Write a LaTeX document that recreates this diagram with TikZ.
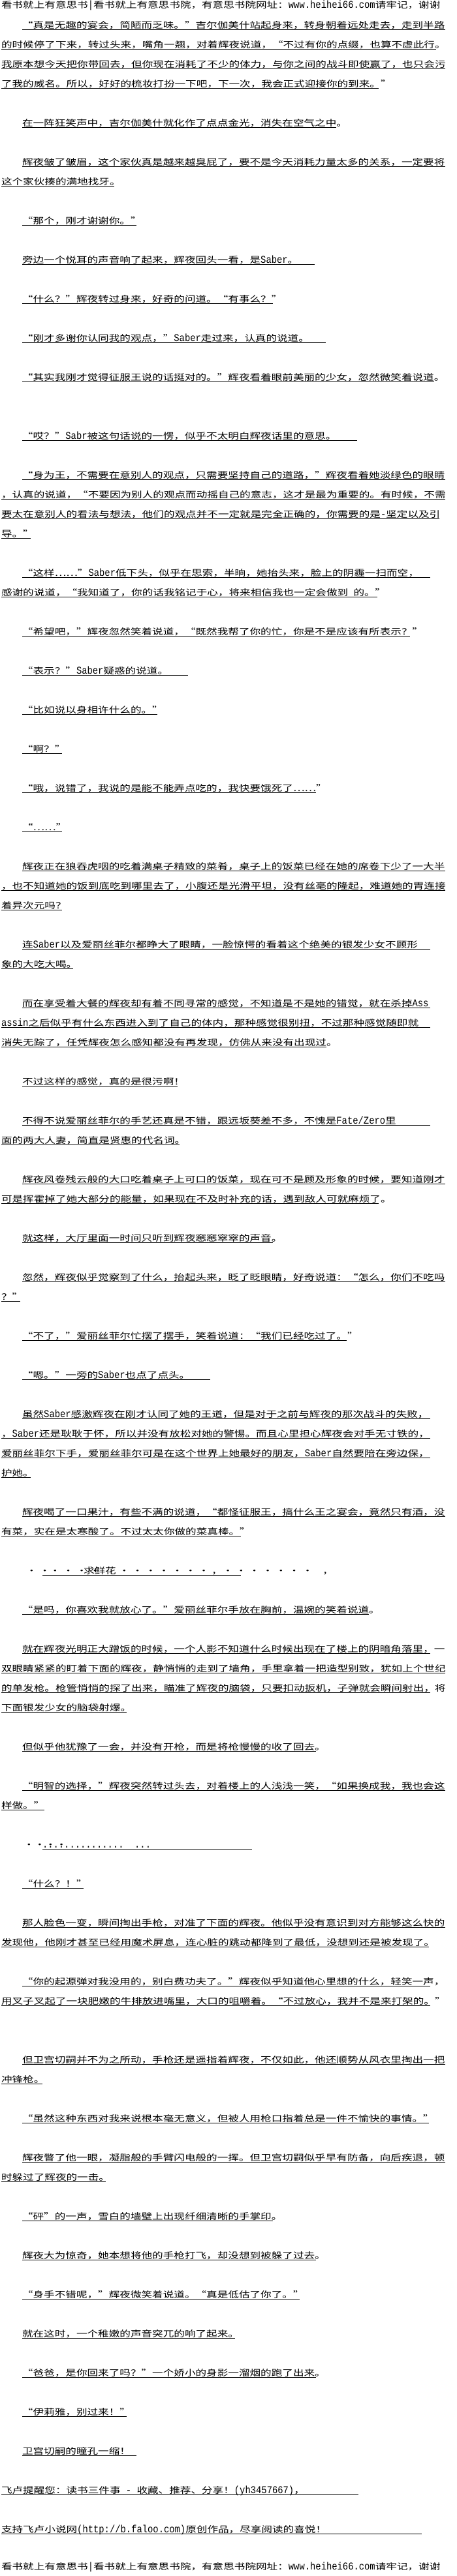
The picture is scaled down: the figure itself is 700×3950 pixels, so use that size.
\documentclass[tikz,border=0pt]{standalone}
\usepackage{fontspec}
\setmainfont[FakeStretch=1.277]{Noto Sans CJK SC}
\newfontfamily\latf[FakeStretch=0.865]{Liberation Mono}
\newcommand\lat[1]{{\fontsize{16pt}{16pt}\latf #1}}
\newcommand\lqq{\makebox[16.6pt][r]{\char"201C}}
\newcommand\rqq{\makebox[16.6pt][l]{\char"201D}}
\catcode`“=\active \def“{\lqq}
\catcode`”=\active \def”{\rqq}
\tikzset{
  txt/.style={anchor=base west, inner sep=0pt, outer sep=0pt, font=\fontsize{13pt}{13pt}\selectfont, text=black},
  ul/.style={draw=black, line width=0.9pt}
}
\newcommand\ptl[5]{\node[txt] (#1) at (#2,#3+5) {#5}; \draw[ul] ([yshift=-2pt]#1.base west) -- ++(#4-#2,0);}
\newcommand\ptx[4]{\node[txt] (#1) at (#2,#3+5) {#4};}
\begin{document}
\begin{tikzpicture}[x=1pt,y=-1pt]
\fill[white] (0,0) rectangle (700,3950);
\useasboundingbox (0,0) rectangle (700,3950);
\ptx{hdr}{2}{7.5}{看书就上有意思书\lat{|}看书就上有意思书院，有意思书院网址：\lat{www.heihei66.com}请牢记，谢谢}
\ptl{a1}{34}{38.3}{682}{“真是无趣的宴会，简陋而乏味。”吉尔伽美什站起身来，转身朝着远处走去，走到半路}
\ptl{a2}{2}{68.3}{668}{的时候停了下来，转过头来，嘴角一翘，对着辉夜说道，“不过有你的点缀，也算不虚此行。}
\ptl{a3}{2}{98.3}{682}{我原本想今天把你带回去，但你现在消耗了不少的体力，与你之间的战斗即使赢了，也只会污}
\ptl{a4}{2}{128.3}{580}{了我的威名。所以，好好的梳妆打扮一下吧，下一次，我会正式迎接你的到来。”}
\ptl{b1}{34}{188.3}{515}{在一阵狂笑声中，吉尔伽美什就化作了点点金光，消失在空气之中。}
\ptl{c1}{34}{248.3}{682}{辉夜皱了皱眉，这个家伙真是越来越臭屁了，要不是今天消耗力量太多的关系，一定要将}
\ptl{c2}{2}{278.3}{175}{这个家伙揍的满地找牙。}
\ptl{d1}{34}{338.3}{209}{“那个，刚才谢谢你。”}
\ptl{e1}{34}{398.3}{482}{旁边一个悦耳的声音响了起来，辉夜回头一看，是\lat{Saber}。}
\ptl{f1}{34}{458.3}{418}{“什么？”辉夜转过身来，好奇的问道。“有事么？”}
\ptl{g1}{34}{518.3}{499}{“刚才多谢你认同我的观点，”\lat{Saber}走过来，认真的说道。}
\ptl{h1}{34}{578.3}{665}{“其实我刚才觉得征服王说的话挺对的。”辉夜看着眼前美丽的少女，忽然微笑着说道。}
\ptl{i1}{34}{668.3}{547}{“哎？”\lat{Sabr}被这句话说的一愣，似乎不太明白辉夜话里的意思。}
\ptl{j1}{34}{728.3}{682}{“身为王，不需要在意别人的观点，只需要坚持自己的道路，”辉夜看着她淡绿色的眼睛}
\ptl{j2}{2}{758.3}{682}{，认真的说道，“不要因为别人的观点而动摇自己的意志，这才是最为重要的。有时候，不需}
\ptl{j3}{2}{788.3}{673}{要太在意别人的看法与想法，他们的观点并不一定就是完全正确的，你需要的是\lat{-}坚定以及引}
\ptl{j4}{2}{818.3}{47}{导。”}
\ptl{k1}{34}{878.3}{659}{“这样……”\lat{Saber}低下头，似乎在思索，半晌，她抬头来，脸上的阴霾一扫而空，}
\ptl{k2}{2}{908.3}{578}{感谢的说道，“我知道了，你的话我铭记于心，将来相信我也一定会做到\lat{ }的。”}
\ptl{l1}{34}{968.3}{628}{“希望吧，”辉夜忽然笑着说道，“既然我帮了你的忙，你是不是应该有所表示？”}
\ptl{m1}{34}{1028.3}{288}{“表示？”\lat{Saber}疑惑的说道。}
\ptl{n1}{34}{1088.3}{241}{“比如说以身相许什么的。”}
\ptl{o1}{34}{1148.3}{95}{“啊？”}
\ptl{p1}{34}{1208.3}{484}{“哦，说错了，我说的是能不能弄点吃的，我快要饿死了……”}
\ptl{q1}{34}{1268.3}{95}{“……”}
\ptl{r1}{34}{1328.3}{682}{辉夜正在狼吞虎咽的吃着满桌子精致的菜肴，桌子上的饭菜已经在她的席卷下少了一大半}
\ptl{r2}{2}{1358.3}{682}{，也不知道她的饭到底吃到哪里去了，小腹还是光滑平坦，没有丝毫的隆起，难道她的胃连接}
\ptl{r3}{2}{1388.3}{95}{着异次元吗？}
\ptl{s1}{34}{1448.3}{659}{连\lat{Saber}以及爱丽丝菲尔都睁大了眼睛，一脸惊愕的看着这个绝美的银发少女不顾形}
\ptl{s2}{2}{1478.3}{112}{象的大吃大喝。}
\ptl{t1}{34}{1538.3}{659}{而在享受着大餐的辉夜却有着不同寻常的感觉，不知道是不是她的错觉，就在杀掉\lat{Ass}}
\ptl{t2}{2}{1568.3}{659}{\lat{assin}之后似乎有什么东西进入到了自己的体内，那种感觉很别扭，不过那种感觉随即就}
\ptl{t3}{2}{1598.3}{500}{消失无踪了，任凭辉夜怎么感知都没有再发现，仿佛从来没有出现过。}
\ptl{u1}{34}{1658.3}{272}{不过这样的感觉，真的是很污啊！}
\ptl{v1}{34}{1718.3}{659}{不得不说爱丽丝菲尔的手艺还真是不错，跟远坂葵差不多，不愧是\lat{Fate/Zero}里}
\ptl{v2}{2}{1748.3}{275}{面的两大人妻，简直是贤惠的代名词。}
\ptl{w1}{34}{1808.3}{682}{辉夜风卷残云般的大口吃着桌子上可口的饭菜，现在可不是顾及形象的时候，要知道刚才}
\ptl{w2}{2}{1838.3}{580}{可是挥霍掉了她大部分的能量，如果现在不及时补充的话，遇到敌人可就麻烦了。}
\ptl{x1}{34}{1898.3}{418}{就这样，大厅里面一时间只听到辉夜窸窸窣窣的声音。}
\ptl{y1}{34}{1958.3}{682}{忽然，辉夜似乎觉察到了什么，抬起头来，眨了眨眼睛，好奇说道：“怎么，你们不吃吗}
\ptl{y2}{2}{1988.3}{31}{？”}
\ptl{z1}{34}{2048.3}{531}{“不了，”爱丽丝菲尔忙摆了摆手，笑着说道：“我们已经吃过了。”}
\ptl{aa1}{34}{2108.3}{322}{“嗯。”一旁的\lat{Saber}也点了点头。}
\ptl{ab1}{34}{2168.3}{659}{虽然\lat{Saber}感激辉夜在刚才认同了她的王道，但是对于之前与辉夜的那次战斗的失败，}
\ptl{ab2}{2}{2198.3}{659}{，\lat{Saber}还是耿耿于怀，所以并没有放松对她的警惕。而且心里担心辉夜会对手无寸铁的，}
\ptl{ab3}{2}{2228.3}{659}{爱丽丝菲尔下手，爱丽丝菲尔可是在这个世界上她最好的朋友，\lat{Saber}自然要陪在旁边保，}
\ptl{ab4}{2}{2258.3}{47}{护她。}
\ptl{ac1}{34}{2318.3}{682}{辉夜喝了一口果汁，有些不满的说道，“都怪征服王，搞什么王之宴会，竟然只有酒，没}
\ptl{ac2}{2}{2348.3}{369}{有菜，实在是太寒酸了。不过太太你做的菜真棒。”}
\ptx{ad1}{40}{2408.3}{·\ ·}
\ptl{ad2}{65}{2408.3}{369}{\ \ \ · · · ·}
\ptx{ad3}{128}{2408.3}{求鲜花}
\ptx{ad4}{182}{2408.3}{· · · · · · · ，· · · · · · ·\ \ \ \ ，}
\ptl{ae1}{34}{2468.3}{565}{“是吗，你喜欢我就放心了。”爱丽丝菲尔手放在胸前，温婉的笑着说道。}
\ptl{af1}{34}{2528.3}{659}{就在辉夜光明正大蹭饭的时候，一个人影不知道什么时候出现在了楼上的阴暗角落里，一}
\ptl{af2}{2}{2558.3}{682}{双眼睛紧紧的盯着下面的辉夜，静悄悄的走到了墙角，手里拿着一把造型别致，犹如上个世纪}
\ptl{af3}{2}{2588.3}{659}{的单发枪。枪管悄悄的探了出来，瞄准了辉夜的脑袋，只要扣动扳机，子弹就会瞬间射出，将}
\ptl{af4}{2}{2618.3}{194}{下面银发少女的脑袋射爆。}
\ptl{ag1}{34}{2678.3}{484}{但似乎他犹豫了一会，并没有开枪，而是将枪慢慢的收了回去。}
\ptl{ah1}{34}{2738.3}{682}{“明智的选择，”辉夜突然转过头去，对着楼上的人浅浅一笑，“如果换成我，我也会这}
\ptl{ah2}{2}{2768.3}{68}{样做。”}
\ptx{ai1}{36}{2828.3}{····}
\ptl{ai2}{65}{2828.3}{386}{\lat{...............\ \ ...}}
\ptl{aj1}{34}{2888.3}{128}{“什么？！”}
\ptl{ak1}{34}{2948.3}{682}{那人脸色一变，瞬间掏出手枪，对准了下面的辉夜。他似乎没有意识到对方能够这么快的}
\ptl{ak2}{2}{2978.3}{657}{发现他，他刚才甚至已经用魔术屏息，连心脏的跳动都降到了最低，没想到还是被发现了。}
\ptl{al1}{34}{3038.3}{659}{“你的起源弹对我没用的，别白费功夫了。”辉夜似乎知道他心里想的什么，轻笑一声，}
\ptl{al2}{2}{3068.3}{659}{用叉子叉起了一块肥嫩的牛排放进嘴里，大口的咀嚼着。“不过放心，我并不是来打架的。”}
\ptl{am1}{34}{3158.3}{682}{但卫宫切嗣并不为之所动，手枪还是遥指着辉夜，不仅如此，他还顺势从风衣里掏出一把}
\ptl{am2}{2}{3188.3}{65}{冲锋枪。}
\ptl{an1}{34}{3248.3}{657}{“虽然这种东西对我来说根本毫无意义，但被人用枪口指着总是一件不愉快的事情。”}
\ptl{ao1}{34}{3308.3}{682}{辉夜瞥了他一眼，凝脂般的手臂闪电般的一挥。但卫宫切嗣似乎早有防备，向后疾退，顿}
\ptl{ao2}{2}{3338.3}{162}{时躲过了辉夜的一击。}
\ptl{ap1}{34}{3398.3}{418}{“砰”的一声，雪白的墙壁上出现纤细清晰的手掌印。}
\ptl{aq1}{34}{3458.3}{484}{辉夜大为惊奇，她本想将他的手枪打飞，却没想到被躲了过去。}
\ptl{ar1}{34}{3518.3}{459}{“身手不错呢，”辉夜微笑着说道。“真是低估了你了。”}
\ptl{as1}{34}{3578.3}{360}{就在这时，一个稚嫩的声音突兀的响了起来。}
\ptl{at1}{34}{3638.3}{484}{“爸爸，是你回来了吗？”一个娇小的身影一溜烟的跑了出来。}
\ptl{au1}{34}{3698.3}{194}{“伊莉雅，别过来！”}
\ptl{av1}{34}{3758.3}{209}{卫宫切嗣的瞳孔一缩！}
\ptl{aw1}{2}{3818.3}{549}{飞卢提醒您：读书三件事\lat{ - }收藏、推荐、分享！\lat{(yh3457667)}，}
\ptl{ax1}{2}{3878.3}{646}{支持飞卢小说网\lat{(http://b.faloo.com)}原创作品，尽享阅读的喜悦！}
\ptx{ftr}{2}{3935}{看书就上有意思书\lat{|}看书就上有意思书院，有意思书院网址：\lat{www.heihei66.com}请牢记，谢谢}
\end{tikzpicture}
\end{document}
